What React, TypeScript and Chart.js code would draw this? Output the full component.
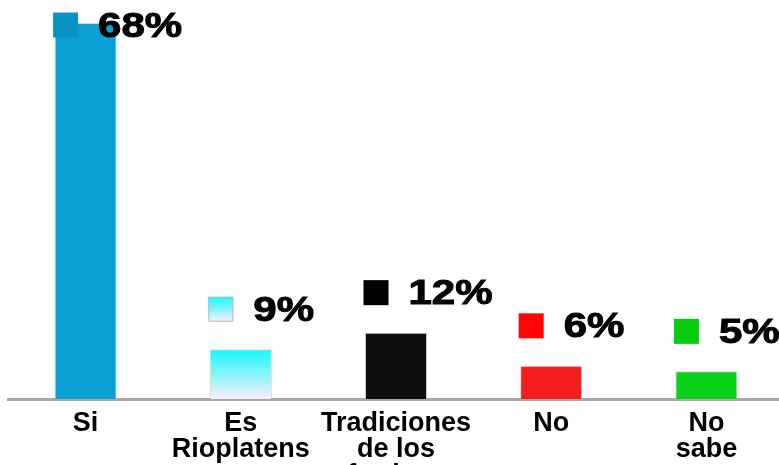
import React, { useEffect, useRef } from "react";
import { Chart, registerables } from "chart.js";

Chart.register(...registerables);

const categories: string[][] = [
  ["Si"],
  ["Es", "Rioplatens"],
  ["Tradiciones", "de los", "afrodescs"],
  ["No"],
  ["No", "sabe"],
];
const values: number[] = [68, 9, 12, 6, 5];
const valueLabels: string[] = ["68%", "9%", "12%", "6%", "5%"];
const barColors: (string | null)[] = ["#0BA0D3", null, "#0E0E0E", "#F51C1C", "#09D119"];
const markerColors: (string | null)[] = ["#0A92C5", null, "#000000", "#FF0505", "#06CC10"];
const gradientTop = "#16F7FA";
const gradientBottom = "#FAF0FA";

const FONT = '"Liberation Sans", Arial, Helvetica, sans-serif';

const valueLabelPlugin = {
  id: "valueLabels",
  afterDatasetsDraw(chart: any) {
    const ctx = chart.ctx as CanvasRenderingContext2D;
    const meta = chart.getDatasetMeta(0);
    const top = chart.chartArea.top;
    meta.data.forEach((bar: any, i: number) => {
      const { x, y } = bar.getProps(["x", "y"], true);
      const cy = Math.max(y - 40, top + 2);
      const size = 25;
      const sx = x - 20 - size / 2;
      const sy = cy - size / 2;
      ctx.save();
      const mc = markerColors[i];
      if (mc) {
        ctx.fillStyle = mc;
        ctx.fillRect(sx, sy, size, size);
      } else {
        const g = ctx.createLinearGradient(0, sy, 0, sy + size);
        g.addColorStop(0, gradientTop);
        g.addColorStop(1, gradientBottom);
        ctx.fillStyle = g;
        ctx.fillRect(sx, sy, size, size);
        ctx.strokeStyle = "#BBBBBB";
        ctx.lineWidth = 1;
        ctx.strokeRect(sx + 0.5, sy + 0.5, size - 1, size - 1);
      }
      ctx.translate(sx + size + 20, cy + 2);
      ctx.scale(1.2, 1);
      ctx.font = `bold 35px ${FONT}`;
      ctx.textBaseline = "middle";
      ctx.textAlign = "left";
      ctx.fillStyle = "#000000";
      ctx.strokeStyle = "#000000";
      ctx.lineWidth = 1;
      ctx.fillText(valueLabels[i], 0, 0);
      ctx.strokeText(valueLabels[i], 0, 0);
      ctx.restore();
    });
  },
};

export default function App() {
  const canvasRef = useRef<HTMLCanvasElement | null>(null);

  useEffect(() => {
    if (!canvasRef.current) return;
    const chart = new Chart(canvasRef.current, {
      type: "bar",
      data: {
        labels: categories,
        datasets: [
          {
            data: values,
            backgroundColor: (c: any) => {
              const i = c.dataIndex;
              const col = barColors[i];
              if (col) return col;
              const chartObj = c.chart;
              const area = chartObj.chartArea;
              const yScale = chartObj.scales?.y;
              if (!area || !yScale) return gradientTop;
              const yTop = yScale.getPixelForValue(values[i]);
              const g = chartObj.ctx.createLinearGradient(0, yTop, 0, area.bottom);
              g.addColorStop(0, gradientTop);
              g.addColorStop(1, gradientBottom);
              return g;
            },
            borderColor: "rgba(160,160,160,0.45)",
            borderWidth: 1,
            barPercentage: 0.4,
            categoryPercentage: 1,
          },
        ],
      },
      options: {
        responsive: false,
        animation: false,
        devicePixelRatio: 1,
        layout: { padding: { left: 8, right: 0, top: 23, bottom: 0 } },
        plugins: {
          legend: { display: false },
          tooltip: { enabled: false },
        },
        scales: {
          x: {
            grid: { display: false, drawTicks: false },
            border: { display: true, color: "#A8A8A8", width: 3 },
            ticks: {
              autoSkip: false,
              maxRotation: 0,
              minRotation: 0,
              padding: 11,
              color: "#000000",
              font: { family: FONT, size: 27, weight: "bold", lineHeight: 0.97 },
            },
            afterFit: (scale: any) => {
              scale.height = 66;
            },
          },
          y: {
            display: false,
            min: 0,
            max: 68,
          },
        },
      },
      plugins: [valueLabelPlugin],
    });
    return () => chart.destroy();
  }, []);

  return (
    <div style={{ position: "fixed", left: 0, top: 0, width: 779, height: 465, overflow: "hidden", background: "#FFFFFF" }}>
      <canvas ref={canvasRef} width={784} height={465} style={{ width: 784, height: 465, display: "block" }} />
    </div>
  );
}
